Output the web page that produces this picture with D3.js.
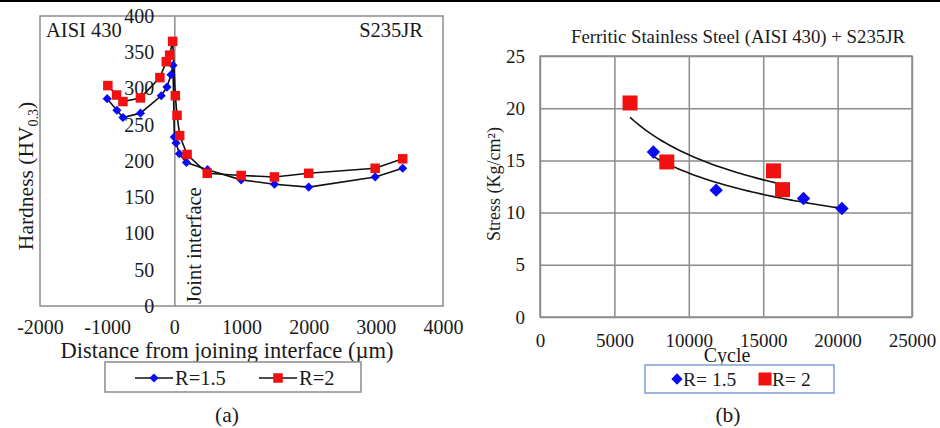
<!DOCTYPE html>
<html>
<head>
<meta charset="utf-8">
<script src="https://cdn.jsdelivr.net/npm/d3@7"></script>
<style>
  body { margin: 0; background: #fff; }
  svg text { font-family: "Liberation Serif", "Times New Roman", serif; fill: #1a1a1a; }
</style>
</head>
<body>
<div id="chart"></div>
<script>
// (a) hardness profile
const distR15 = [-1000, -855, -765, -505, -195, -110, -50, -20, 0, 25, 75, 180, 495, 995, 1490, 2000, 2990, 3400];
const hardR15 = [286, 270, 260, 266, 290, 302, 319, 332, 233, 225, 210, 198, 188, 174, 168, 164, 178, 190];
const distR2 = [-990, -860, -765, -505, -215, -120, -70, -25, 15, 40, 80, 190, 490, 995, 1490, 2000, 2990, 3400];
const hardR2 = [304, 291, 282, 287, 315, 337, 346, 365, 290, 263, 235, 209, 183, 180, 178, 183, 190, 203];
const distTicks = [-2000, -1000, 0, 1000, 2000, 3000, 4000];
const hardTicks = [0, 50, 100, 150, 200, 250, 300, 350, 400];

// (b) fatigue
const cycleR15 = [7620, 11840, 17710, 20290];
const stressR15 = [15.8, 12.15, 11.35, 10.4];
const cycleR2 = [6050, 8520, 15690, 16300];
const stressR2 = [20.5, 14.85, 14.0, 12.2];
const cycleTicks = [0, 5000, 10000, 15000, 20000, 25000];
const stressTicks = [0, 5, 10, 15, 20, 25];

const BLUE = '#0a0af0';
const RED = '#f01010';
const GREY = '#8c8c8c';

const svg = d3.select('#chart').append('svg')
  .attr('width', 940)
  .attr('height', 428);

// top rule
svg.append('line')
  .attr('x1', 0).attr('x2', 940)
  .attr('y1', 1).attr('y2', 1)
  .attr('stroke', '#000').attr('stroke-width', 2);

const zip = (xs, ys) => xs.map((x, i) => ({ x: x, y: ys[i] }));
const plain = d => String(d);

function diamond(sel, size) {
  return sel.append('path')
    .attr('d', d3.symbol().type(d3.symbolSquare).size(size * size)())
    .attr('fill', BLUE);
}

function square(sel, size) {
  return sel.append('path')
    .attr('d', d3.symbol().type(d3.symbolSquare).size(size * size)())
    .attr('fill', RED);
}

function styleAxis(a, fontSize) {
  a.attr('font-family', null).attr('font-size', null);
  a.selectAll('text').attr('font-size', fontSize);
}

// ---------- (a) ----------
{
  const x = d3.scaleLinear().domain([-2000, 4000]).range([40, 443]);
  const y = d3.scaleLinear().domain([0, 400]).range([306, 16]);
  const g = svg.append('g');

  g.append('rect')
    .attr('x', x(-2000)).attr('y', y(400))
    .attr('width', x(4000) - x(-2000)).attr('height', y(0) - y(400))
    .attr('fill', 'none').attr('stroke', GREY).attr('stroke-width', 1.5);

  const yAxis = g.append('g')
    .attr('transform', 'translate(' + x(0) + ',0)')
    .call(d3.axisLeft(y).tickValues(hardTicks).tickFormat(plain).tickSize(0).tickPadding(20));
  yAxis.select('.domain').attr('stroke', GREY).attr('stroke-width', 1.5);
  styleAxis(yAxis, 20);

  const xAxis = g.append('g')
    .attr('transform', 'translate(0,' + y(0) + ')')
    .call(d3.axisBottom(x).tickValues(distTicks).tickFormat(plain).tickSize(0).tickPadding(14));
  xAxis.select('.domain').remove();
  styleAxis(xAxis, 20);

  g.append('text')
    .attr('x', 227).attr('y', 358)
    .attr('text-anchor', 'middle').attr('font-size', 22.5)
    .text('Distance from joining interface (\u00b5m)');

  const yt = g.append('text')
    .attr('transform', 'translate(33,176) rotate(-90)')
    .attr('text-anchor', 'middle').attr('font-size', 21.5);
  yt.append('tspan').text('Hardness (HV');
  yt.append('tspan').attr('font-size', 14).attr('dy', 5).text('0.3');
  yt.append('tspan').attr('dy', -5).text(')');

  g.append('text')
    .attr('transform', 'translate(' + (x(0) + 27) + ',' + (y(0) - 2) + ') rotate(-90)')
    .attr('font-size', 20.5)
    .text('Joint interface');

  g.append('text').attr('x', 46).attr('y', 37).attr('font-size', 20.5).text('AISI 430');
  g.append('text').attr('x', 423).attr('y', 37).attr('font-size', 20.5)
    .attr('text-anchor', 'end').text('S235JR');

  const line = d3.line().x(d => x(d.x)).y(d => y(d.y));
  const series = [
    { pts: zip(distR15, hardR15), mark: 'd' },
    { pts: zip(distR2, hardR2), mark: 's' },
  ];
  series.forEach(s => {
    g.append('path')
      .attr('d', line(s.pts))
      .attr('fill', 'none').attr('stroke', '#111').attr('stroke-width', 1.6);
  });
  series.forEach(s => {
    g.selectAll(null).data(s.pts).enter().append('g')
      .attr('transform', d => 'translate(' + x(d.x) + ',' + y(d.y) + ')' + (s.mark === 'd' ? ' rotate(45)' : ''))
      .each(function () {
        if (s.mark === 'd') diamond(d3.select(this), 6.5);
        else square(d3.select(this), 9.5);
      });
  });

  // legend
  const lg = g.append('g');
  lg.append('rect')
    .attr('x', 105).attr('y', 362).attr('width', 256).attr('height', 30)
    .attr('fill', '#fff').attr('stroke', GREY).attr('stroke-width', 1.5);
  [[135, 'd', 'R=1.5'], [259, 's', 'R=2']].forEach(([lx, m, label]) => {
    lg.append('line')
      .attr('x1', lx).attr('x2', lx + 38).attr('y1', 378).attr('y2', 378)
      .attr('stroke', '#111').attr('stroke-width', 1.6);
    const mk = lg.append('g')
      .attr('transform', 'translate(' + (lx + 19) + ',378)' + (m === 'd' ? ' rotate(45)' : ''));
    if (m === 'd') diamond(mk, 6.5); else square(mk, 9.5);
    lg.append('text').attr('x', lx + 40).attr('y', 385).attr('font-size', 20.5).text(label);
  });

  g.append('text').attr('x', 227).attr('y', 422)
    .attr('text-anchor', 'middle').attr('font-size', 21.5).text('(a)');
}

// ---------- (b) ----------
{
  const x = d3.scaleLinear().domain([0, 25000]).range([540, 912]);
  const y = d3.scaleLinear().domain([0, 25]).range([317, 56]);
  const g = svg.append('g');
  const w = x(25000) - x(0);
  const h = y(0) - y(25);

  const xAxis = g.append('g')
    .attr('transform', 'translate(0,' + y(0) + ')')
    .call(d3.axisBottom(x).tickValues(cycleTicks).tickFormat(plain).tickSize(-h).tickPadding(17));
  const yAxis = g.append('g')
    .attr('transform', 'translate(' + x(0) + ',0)')
    .call(d3.axisLeft(y).tickValues(stressTicks).tickFormat(plain).tickSize(-w).tickPadding(15));
  [xAxis, yAxis].forEach(a => {
    a.select('.domain').remove();
    a.selectAll('line').attr('stroke', GREY).attr('stroke-width', 1.5);
    styleAxis(a, 19);
  });

  g.append('rect')
    .attr('x', x(0)).attr('y', y(25)).attr('width', w).attr('height', h)
    .attr('fill', 'none').attr('stroke', GREY).attr('stroke-width', 1.5);

  g.append('text')
    .attr('x', 738).attr('y', 43)
    .attr('text-anchor', 'middle').attr('font-size', 18.8)
    .text('Ferritic Stainless Steel (AISI 430) + S235JR');

  g.append('text')
    .attr('x', 727).attr('y', 362)
    .attr('text-anchor', 'middle').attr('font-size', 20).text('Cycle');

  g.append('text')
    .attr('transform', 'translate(500,184) rotate(-90)')
    .attr('text-anchor', 'middle').attr('font-size', 18)
    .text('Stress (Kg/cm\u00b2)');

  // power trendlines fitted from the points
  function powerFit(xs, ys) {
    const lx = xs.map(Math.log), ly = ys.map(Math.log);
    const mx = d3.mean(lx), my = d3.mean(ly);
    const b = d3.sum(lx, (v, i) => (v - mx) * (ly[i] - my)) / d3.sum(lx, v => (v - mx) * (v - mx));
    const a = Math.exp(my - b * mx);
    return v => a * Math.pow(v, b);
  }
  const line = d3.line().x(d => x(d.x)).y(d => y(d.y)).curve(d3.curveBasis);
  [[cycleR15, stressR15], [cycleR2, stressR2]].forEach(([xs, ys]) => {
    const f = powerFit(xs, ys);
    const [lo, hi] = d3.extent(xs);
    const pts = d3.range(0, 41).map(i => {
      const v = lo + (hi - lo) * i / 40;
      return { x: v, y: f(v) };
    });
    g.append('path').attr('d', line(pts))
      .attr('fill', 'none').attr('stroke', '#111').attr('stroke-width', 1.6);
  });

  g.selectAll(null).data(zip(cycleR2, stressR2)).enter().append('g')
    .attr('transform', d => 'translate(' + x(d.x) + ',' + y(d.y) + ')')
    .each(function () { square(d3.select(this), 15); });
  g.selectAll(null).data(zip(cycleR15, stressR15)).enter().append('g')
    .attr('transform', d => 'translate(' + x(d.x) + ',' + y(d.y) + ') rotate(45)')
    .each(function () { diamond(d3.select(this), 9.5); });

  // legend
  const lg = g.append('g');
  lg.append('rect')
    .attr('x', 645).attr('y', 365).attr('width', 189).attr('height', 28)
    .attr('fill', '#fff').attr('stroke', '#7f9fd0').attr('stroke-width', 1.5);
  diamond(lg.append('g').attr('transform', 'translate(677,379) rotate(45)'), 8);
  lg.append('text').attr('x', 683).attr('y', 386).attr('font-size', 19.5).text('R= 1.5');
  square(lg.append('g').attr('transform', 'translate(765,379)'), 13);
  lg.append('text').attr('x', 772).attr('y', 386).attr('font-size', 19.5).text('R= 2');

  g.append('text').attr('x', 728).attr('y', 422)
    .attr('text-anchor', 'middle').attr('font-size', 21.5).text('(b)');
}
</script>
</body>
</html>
